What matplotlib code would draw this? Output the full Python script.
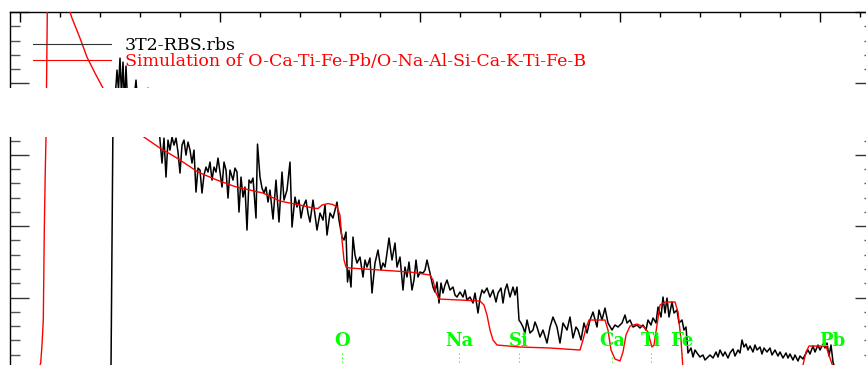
import matplotlib
matplotlib.use("Agg")
import matplotlib.pyplot as plt
from matplotlib.lines import Line2D
from matplotlib.patches import Rectangle
from matplotlib.ticker import MultipleLocator

# ---------------- data ----------------
exp_channel = [40, 45.5, 46.5, 47.5, 48.5, 49.25, 50, 50.75, 51.5, 52.25, 53, 54, 55, 56, 57, 58, 59, 60,
               61, 62, 63, 64, 65, 66, 67, 68, 69, 70, 71, 72, 73, 74, 75, 76, 77, 78, 79, 80, 81, 82, 83,
               84, 85, 86, 87, 88, 89, 90, 91, 92, 93, 94, 95, 96, 97, 98, 99, 100, 101, 102, 103, 104, 105,
               106.5, 107.5, 108.5, 109.5, 110.5, 111.5, 112.5, 113.5, 114.5, 115.5, 116.5, 118, 118.75, 120,
               121, 122, 123, 124, 125, 126.5, 128, 129.5, 131, 132, 133.5, 135, 136, 137.5, 138.5, 139.5,
               140.5, 141.5, 143, 144, 145, 146.5, 147.5, 148.5, 150, 151.5, 152.5, 153.5, 155, 156.5, 158.5,
               159.5, 161, 162, 163, 163.75, 164.5, 165.5, 166.5, 167.5, 168.5, 170, 171.5, 172.5, 173.5, 175,
               176, 177.5, 179, 180.5, 181.5, 182.5, 183.5, 184.5, 186, 187.5, 188.5, 190, 191.5, 192.5, 193.5,
               194.5, 196, 197, 198, 199, 200, 201.5, 202.5, 203.5, 205, 206.5, 207.5, 208.5, 209.5, 210.5,
               211.5, 212.5, 213.5, 215, 216.5, 217.5, 218.5, 220, 221.5, 222.5, 223.5, 225, 226.5, 227.5, 229,
               230, 231, 232, 233.5, 235, 236.5, 238, 239, 240.5, 241.5, 242.5, 243.5, 245, 246.5, 247.5, 248.5,
               249.5, 250.5, 251.5, 252.5, 253.5, 255, 256.5, 257.5, 258.5, 260, 261.5, 263.5, 265, 266.5, 268.5,
               270, 271.5, 273.5, 275, 276.5, 278, 279, 280.5, 282, 283.5, 285, 286.5, 288.5, 289.5, 291, 292.5,
               294, 296, 297.5, 299, 301, 302.5, 303.5, 305, 306.5, 308.5, 310, 311.5, 313, 314, 315.5, 316.5,
               318, 319, 320.5, 321.5, 322.5, 323.5, 324.5, 326, 327, 328.5, 329.5, 331, 332, 333, 334, 335.5,
               336.5, 337.5, 338.5, 340, 341.5, 342.5, 343.5, 345, 346.5, 348, 349, 350, 351.5, 352.5, 354, 355,
               356.5, 357.5, 359, 360, 361, 362, 363, 364, 365, 366.5, 367.5, 368.5, 370, 371, 372, 373.5, 375,
               376, 377.5, 379, 380, 381.5, 383, 384, 385, 386.5, 387.5, 389, 390, 391.5, 392.5, 394, 395, 396.5,
               397.5, 399, 400, 401.5, 402.5, 403.5, 404.5, 405.5, 406.5, 407.5, 410]
exp_counts = [0, 0, 3514, 3766, 4186, 3906, 4354, 3836, 4298, 3696, 4242, 3598, 3836, 3514, 3766, 4046, 3654,
              3794, 3458, 3710, 3514, 3934, 3598, 3430, 3696, 3374, 3598, 3206, 2884, 3234, 2688, 3206, 3066,
              3248, 3136, 3234, 3038, 2744, 3136, 3206, 2996, 3178, 3066, 2884, 3066, 2478, 2814, 2786, 2464,
              2716, 2828, 2758, 2898, 2646, 2828, 2758, 2954, 2758, 2548, 2898, 2786, 2394, 2786, 2646, 2814,
              2758, 2198, 2688, 2408, 2548, 1946, 2646, 2604, 2674, 2114, 3150, 2688, 2534, 2464, 2548, 2338,
              2506, 2100, 2646, 2058, 2758, 2366, 2506, 2898, 1988, 2408, 2268, 2366, 2114, 2268, 2366, 2184,
              2058, 2366, 2156, 1946, 2184, 2086, 2296, 1876, 2184, 2114, 2338, 2086, 1848, 1806, 1918, 1218,
              1386, 1148, 1848, 1596, 1484, 1568, 1288, 1526, 1428, 1554, 1064, 1484, 1666, 1386, 1484, 1428,
              1624, 1834, 1526, 1764, 1428, 1568, 1106, 1428, 1288, 1498, 1106, 1246, 1526, 1288, 1358, 1344,
              1386, 1526, 1344, 1148, 1078, 1218, 924, 1204, 1064, 1176, 1246, 1106, 1148, 1036, 1008, 1078,
              1008, 1106, 966, 1008, 924, 1064, 784, 994, 1106, 1064, 1134, 1008, 1106, 938, 1064, 1134, 924,
              1106, 1190, 1008, 1148, 1036, 1148, 686, 644, 588, 504, 686, 504, 546, 658, 588, 448, 546, 364,
              588, 728, 588, 364, 644, 546, 728, 434, 588, 546, 406, 644, 504, 686, 798, 588, 826, 686, 854,
              644, 546, 616, 588, 644, 756, 644, 686, 588, 616, 574, 616, 546, 686, 616, 714, 644, 868, 728,
              1008, 784, 994, 728, 938, 784, 826, 644, 686, 546, 588, 224, 294, 168, 266, 224, 168, 196, 126,
              154, 196, 154, 238, 168, 266, 182, 238, 154, 224, 280, 182, 266, 224, 406, 308, 350, 266, 322,
              238, 336, 266, 308, 210, 294, 238, 294, 196, 266, 182, 238, 154, 224, 154, 210, 126, 196, 112,
              182, 140, 196, 266, 210, 322, 238, 336, 266, 350, 294, 364, 182, 336, 98, 0, 0]

sim_channel = [8, 9.5, 10.35, 11, 11.65, 12.15, 12.6, 13, 13.4, 13.65, 14, 16, 18, 20, 23, 25, 26, 30, 33.5,
               37.5, 41.5, 50, 55, 62, 70, 78.5, 89, 98.5, 107.5, 121.5, 130, 140, 146.5, 149, 151, 154, 156.5,
               158.5, 160, 161, 162, 163, 165, 180, 195, 205, 206.5, 208, 209.5, 220, 230, 232, 233.5, 235,
               236.5, 238.5, 250, 265, 280, 281.5, 283, 284.5, 292.5, 294, 295.5, 297.5, 300, 301.5, 303, 305,
               308.5, 312, 314, 315, 316, 317, 318.5, 320, 322.5, 327.5, 329, 330.5, 331.5, 390, 391.5, 393,
               394.5, 403, 404.5, 406.5, 408, 412.5]
sim_counts = [0, 14, 84, 336, 686, 1946, 2716, 3248, 4326, 4998, 6500, 10000, 11000, 10000, 6500, 4998, 4914,
              4634, 4368, 4144, 3934, 3598, 3430, 3248, 3094, 2954, 2758, 2646, 2555, 2464, 2352, 2296, 2254,
              2247, 2296, 2317, 2303, 2268, 2156, 1806, 1526, 1428, 1414, 1386, 1358, 1316, 1246, 1064, 980,
              966, 952, 896, 756, 546, 406, 336, 308, 294, 266, 406, 574, 686, 686, 546, 266, 140, 112, 238,
              476, 602, 630, 588, 518, 406, 308, 336, 616, 896, 938, 938, 798, 406, 0, 0, 56, 238, 322, 322,
              196, 28, 0, 0]

element_names = ["O", "Na", "Si", "Ca", "Ti", "Fe", "Pb"]
element_channel = [161, 219.5, 249.5, 296, 315.5, 331, 406]
label_height = 322
marker_top = 224

legend_labels = ["3T2-RBS.rbs", "Simulation of O-Ca-Ti-Fe-Pb/O-Na-Al-Si-Ca-K-Ti-Fe-B"]

# ---------------- figure ----------------
W, H = 866, 365
fig = plt.figure(figsize=(W / 100, H / 100), dpi=100)
ax = fig.add_axes([10 / W, 1 - 369 / H, 864 / W, 357 / H])

ax.plot(exp_channel, exp_counts, color="black", lw=1.1, zorder=3)
ax.plot(sim_channel, sim_counts, color="red", lw=1.0, zorder=4)

lab_font = dict(family=["DejaVu Serif"], size=13, weight="bold")
for name, ch in zip(element_names, element_channel):
    ax.text(ch, label_height, name, color="#00ff00", ha="center", va="baseline", zorder=5, **lab_font)
    ax.plot([ch, ch], [0, marker_top], color="#00ff00", lw=0.8, ls=(0, (1, 2.5)), zorder=2)

ax.set_xlim(-5, 427)
ax.set_ylim(0, 5000)
ax.xaxis.set_major_locator(MultipleLocator(100))
ax.xaxis.set_minor_locator(MultipleLocator(20))
ax.yaxis.set_major_locator(MultipleLocator(1000))
ax.yaxis.set_minor_locator(MultipleLocator(200))
ax.tick_params(axis="x", which="major", direction="in", length=7.2, width=1, top=True, bottom=False,
               labelbottom=False, labeltop=False)
ax.tick_params(axis="x", which="minor", direction="in", length=3.6, width=1, top=True, bottom=False)
ax.tick_params(axis="y", which="major", direction="in", length=13.7, width=1, left=True, right=True,
               labelleft=False, labelright=False, color="#333333")
ax.tick_params(axis="y", which="minor", direction="in", length=7.2, width=1, left=True, right=True,
               color="#555555")
for s in ax.spines.values():
    s.set_linewidth(1.0)
    s.set_color("black")

handles = [Line2D([], [], color="#333333", lw=0.8), Line2D([], [], color="red", lw=0.8)]
leg = ax.legend(handles, legend_labels, loc="upper left", bbox_to_anchor=(33 / W, 1 - 37 / H),
                bbox_transform=fig.transFigure, frameon=False, borderpad=0, borderaxespad=0,
                handlelength=4.5, handletextpad=0.8, labelspacing=-0.08,
                prop=dict(family=["DejaVu Serif"], size=12.5), labelcolor=["black", "red"])

# blank horizontal band of the reference
fig.add_artist(Rectangle((0, 1 - 137 / H), 1, 49 / H, transform=fig.transFigure,
                         facecolor="white", edgecolor="none", zorder=10))

fig.savefig("out.png", dpi=100)
